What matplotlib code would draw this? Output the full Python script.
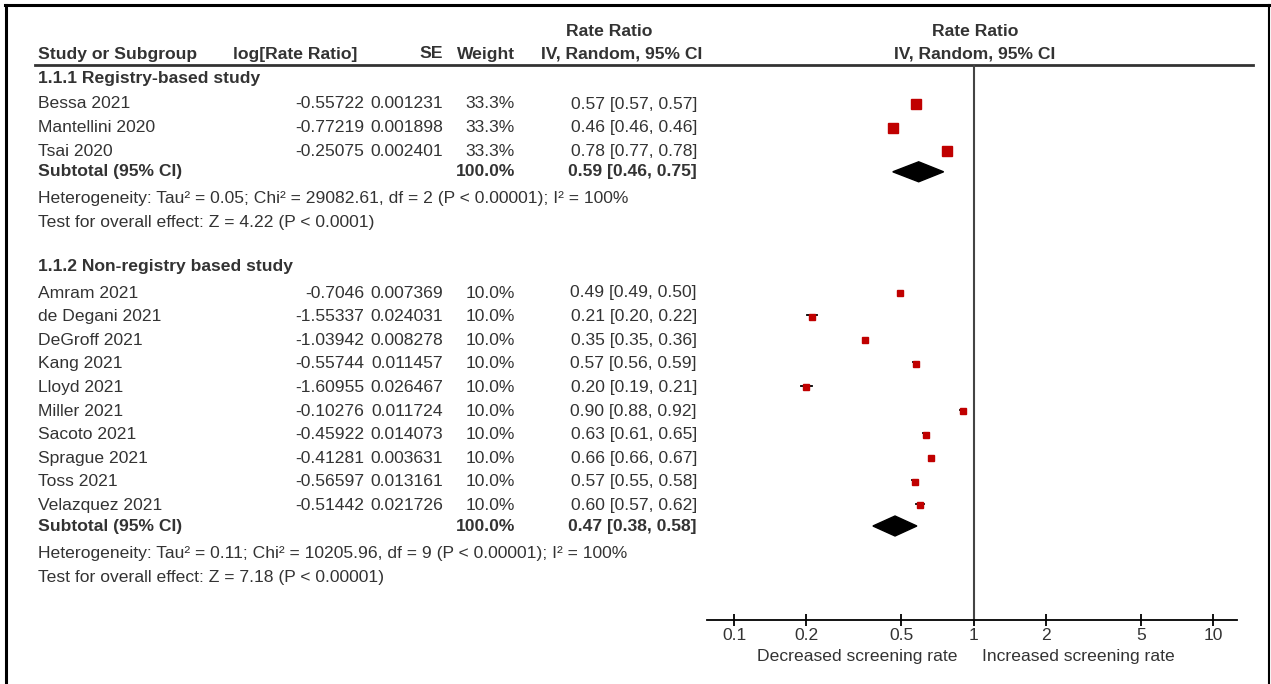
import numpy as np
import matplotlib.pyplot as plt
from matplotlib.patches import Polygon

plt.rcParams['font.family'] = ['Liberation Sans', 'DejaVu Sans']

# data
grp1_names = ['Bessa 2021', 'Mantellini 2020', 'Tsai 2020']
grp1_log = ['-0.55722', '-0.77219', '-0.25075']
grp1_se = ['0.001231', '0.001898', '0.002401']
grp1_weight = [33.3, 33.3, 33.3]
grp1_ci = ['0.57 [0.57, 0.57]', '0.46 [0.46, 0.46]', '0.78 [0.77, 0.78]']
grp1_total = (0.59, 0.46, 0.75)

grp2_names = ['Amram 2021', 'de Degani 2021', 'DeGroff 2021', 'Kang 2021', 'Lloyd 2021',
              'Miller 2021', 'Sacoto 2021', 'Sprague 2021', 'Toss 2021', 'Velazquez 2021']
grp2_log = ['-0.7046', '-1.55337', '-1.03942', '-0.55744', '-1.60955',
            '-0.10276', '-0.45922', '-0.41281', '-0.56597', '-0.51442']
grp2_se = ['0.007369', '0.024031', '0.008278', '0.011457', '0.026467',
           '0.011724', '0.014073', '0.003631', '0.013161', '0.021726']
grp2_weight = [10.0] * 10
grp2_ci = ['0.49 [0.49, 0.50]', '0.21 [0.20, 0.22]', '0.35 [0.35, 0.36]', '0.57 [0.56, 0.59]',
           '0.20 [0.19, 0.21]', '0.90 [0.88, 0.92]', '0.63 [0.61, 0.65]', '0.66 [0.66, 0.67]',
           '0.57 [0.55, 0.58]', '0.60 [0.57, 0.62]']
grp2_total = (0.47, 0.38, 0.58)

ticks = [0.1, 0.2, 0.5, 1, 2, 5, 10]

W, H = 1271, 684
txtc = '#333333'
red = '#c00000'
fs = 12.6

fig = plt.figure(figsize=(W / 100, H / 100), dpi=100)
tx = fig.add_axes([0, 0, 1, 1])
tx.set_xlim(0, W)
tx.set_ylim(H, 0)
tx.axis('off')

# frame
tx.plot([6, 6], [H, 5], color='black', lw=2.2)
tx.plot([5, 1269], [5, 5], color='black', lw=2.2)
tx.plot([1269, 1269], [5, H], color='black', lw=1.5)

# forest axes, y in pixel rows
ax_top, ax_bot, ax_l, ax_r = 65, 620, 707, 1237
ax = fig.add_axes([ax_l / W, 1 - ax_bot / H, (ax_r - ax_l) / W, (ax_bot - ax_top) / H])
ax.set_xscale('log')
ax.set_xlim(10 ** -1.113, 10 ** 1.10)
ax.set_ylim(ax_bot, ax_top)
for s in ['top', 'left', 'right']:
    ax.spines[s].set_visible(False)
ax.spines['bottom'].set_linewidth(1.3)
ax.set_yticks([])
ax.set_xticks(ticks)
ax.set_xticklabels([str(t) for t in ticks], fontsize=fs, color=txtc)
ax.minorticks_off()
ax.tick_params(axis='x', direction='inout', length=9, width=1.3, pad=1)
ax.axvline(1, color='#444444', lw=1.5)
ax.patch.set_alpha(0)

# header
tx.plot([35, 1253], [65, 65], color='#333333', lw=2)
hdr = dict(fontsize=fs, color=txtc, fontweight='bold', va='center')
tx.text(38, 54, 'Study or Subgroup', ha='left', **hdr)
tx.text(357, 54, 'log[Rate Ratio]', ha='right', **hdr)
tx.text(443, 54, 'SE', ha='right', **hdr)
tx.text(515, 54, 'Weight', ha='right', **hdr)
tx.text(609, 31, 'Rate Ratio', ha='center', **hdr)
tx.text(702, 54, 'IV, Random, 95% CI', ha='right', **hdr)
tx.text(975, 31, 'Rate Ratio', ha='center', **hdr)
tx.text(975, 54, 'IV, Random, 95% CI', ha='center', **hdr)


def draw_group(title, y0, names, logs, ses, weights, cis, total, tot_ci, het, test):
    norm = dict(fontsize=fs, color=txtc, va='center')
    bold = dict(fontsize=fs, color=txtc, va='center', fontweight='bold')
    tx.text(38, y0, title, ha='left', **bold)
    y = y0 + 26
    for n, lg, se, w, ci in zip(names, logs, ses, weights, cis):
        tx.text(38, y, n, ha='left', **norm)
        tx.text(364, y, lg, ha='right', **norm)
        tx.text(443, y, se, ha='right', **norm)
        tx.text(515, y, f'{w:.1f}%', ha='right', **norm)
        tx.text(697, y, ci, ha='right', **norm)
        m, s = float(lg), float(se)
        ax.plot([np.exp(m - 1.96 * s), np.exp(m + 1.96 * s)], [y - 1.5, y - 1.5],
                color='black', lw=1.3)
        size = 4.3 * np.sqrt(w / 10)
        ax.plot(np.exp(m), y, marker='s', ms=size, color=red, mec=red, ls='none')
        y += 23.6
    y -= 3
    tx.text(38, y, 'Subtotal (95% CI)', ha='left', **bold)
    tx.text(515, y, '100.0%', ha='right', **bold)
    tx.text(697, y, tot_ci, ha='right', **bold)
    est, lo, hi = total
    ax.add_patch(Polygon([[lo, y], [est, y - 10], [hi, y], [est, y + 10]],
                         closed=True, color='black'))
    tx.text(38, y + 27, het, ha='left', **norm)
    tx.text(38, y + 51, test, ha='left', **norm)


draw_group('1.1.1 Registry-based study', 78, grp1_names, grp1_log, grp1_se, grp1_weight,
           grp1_ci, grp1_total, '0.59 [0.46, 0.75]',
           'Heterogeneity: Tau² = 0.05; Chi² = 29082.61, df = 2 (P < 0.00001); I² = 100%',
           'Test for overall effect: Z = 4.22 (P < 0.0001)')
draw_group('1.1.2 Non-registry based study', 267, grp2_names, grp2_log, grp2_se, grp2_weight,
           grp2_ci, grp2_total, '0.47 [0.38, 0.58]',
           'Heterogeneity: Tau² = 0.11; Chi² = 10205.96, df = 9 (P < 0.00001); I² = 100%',
           'Test for overall effect: Z = 7.18 (P < 0.00001)')

tx.text(857, 656, 'Decreased screening rate', ha='center', va='center', fontsize=fs, color=txtc)
tx.text(1078, 656, 'Increased screening rate', ha='center', va='center', fontsize=fs, color=txtc)

fig.savefig('out.png', dpi=100)
